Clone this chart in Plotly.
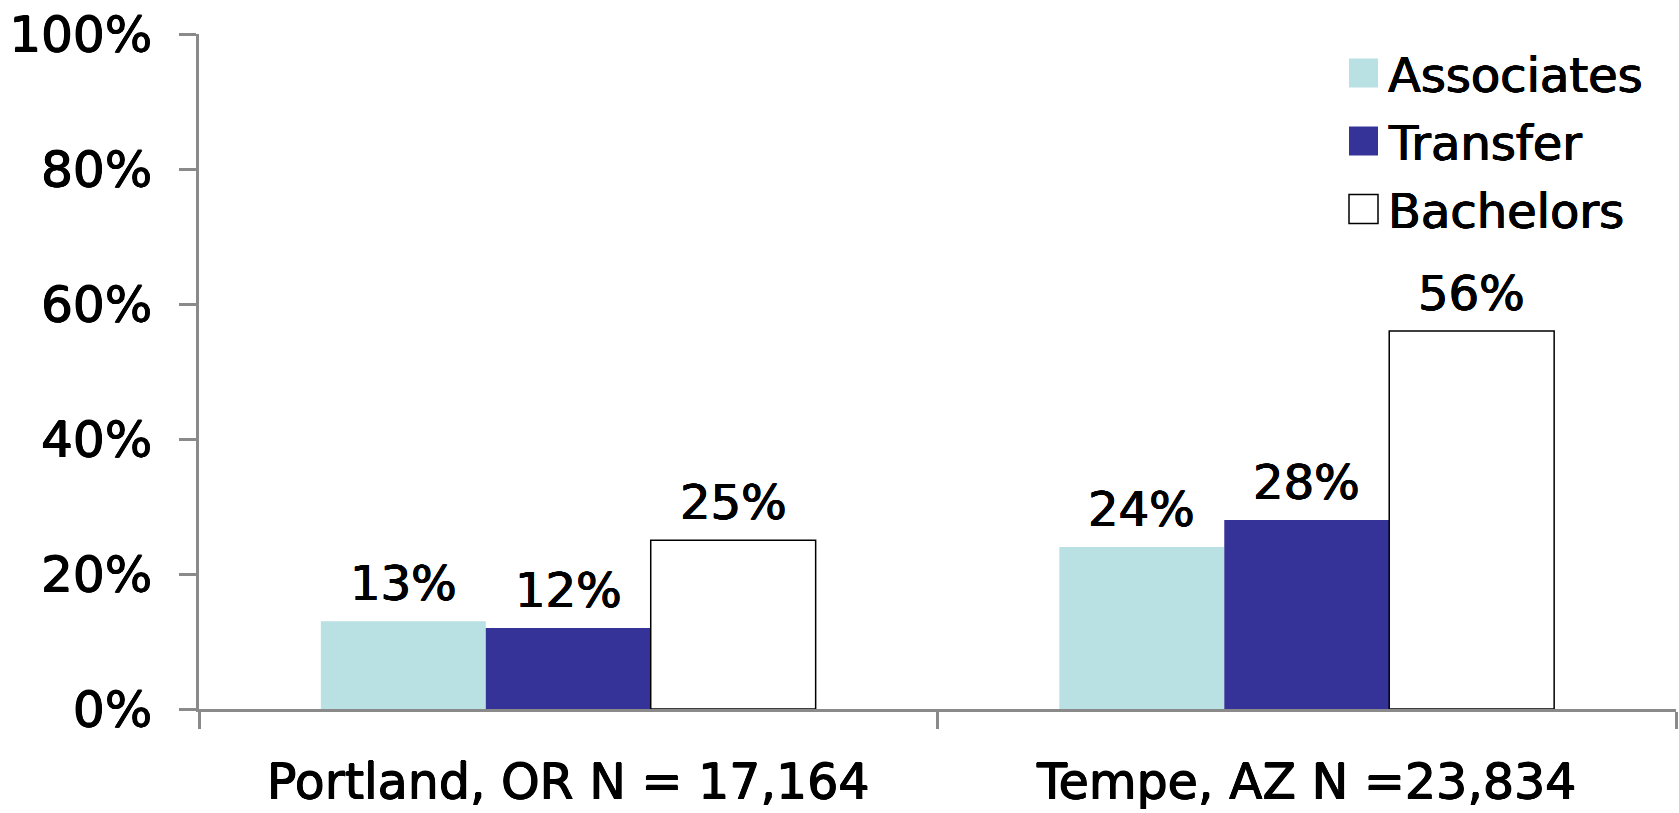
import plotly.graph_objects as go

# Share of students completing each outcome, by site
sites = ["Portland, OR N = 17,164", "Tempe, AZ N =23,834"]
series_names = ["Associates", "Transfer", "Bachelors"]
associates = [13, 24]
transfer = [12, 28]
bachelors = [25, 56]
y_ticks = [0, 20, 40, 60, 80, 100]
y_tick_labels = ["0%", "20%", "40%", "60%", "80%", "100%"]

W, H = 1679, 813
M_L, M_R, M_T, M_B = 199, 3, 34, 104
PLOT_W = W - M_L - M_R
PLOT_H = H - M_T - M_B

FONT = "DejaVu Sans, sans-serif"
HEAVY = "0.6px 0 0 #000, -0.6px 0 0 #000, 0 0.4px 0 #000, 0 -0.4px 0 #000"
AXIS_GRAY = "#8a8a8a"
fill_colors = ["#b9e0e3", "#363398", "#ffffff"]
line_colors = ["#b9e0e3", "#363398", "#000000"]
line_widths = [0, 0, 1.5]

values = [associates, transfer, bachelors]
BARGAP = 0.33
bar_w = (1 - BARGAP) / len(values)

fig = go.Figure()
for k, (name, vals) in enumerate(zip(series_names, values)):
    fig.add_trace(go.Bar(
        name=name,
        x=sites,
        y=vals,
        marker=dict(color=fill_colors[k],
                    line=dict(color=line_colors[k], width=line_widths[k])),
        showlegend=False,
    ))

# value labels above each bar
annotations = []
for k, vals in enumerate(values):
    for i, v in enumerate(vals):
        annotations.append(dict(
            x=i + (k - 1) * bar_w, y=v, xref="x", yref="y",
            text=f"{v}%", showarrow=False, yanchor="bottom",
            yshift=8, font=dict(family=FONT, size=48, color="black",
                                shadow=HEAVY),
        ))


def px_to_paper_x(px):
    return (px - M_L) / PLOT_W


def px_to_paper_y(py):
    return (H - M_B - py) / PLOT_H


# legend: square swatches with labels, top right
legend_left = 1349
legend_rows = [73, 141, 209]
sw = 29
shapes = []
for k, name in enumerate(series_names):
    cy = legend_rows[k]
    shapes.append(dict(
        type="rect", xref="paper", yref="paper",
        x0=px_to_paper_x(legend_left), x1=px_to_paper_x(legend_left + sw),
        y0=px_to_paper_y(cy + sw / 2), y1=px_to_paper_y(cy - sw / 2),
        fillcolor=fill_colors[k],
        line=dict(color=line_colors[k] if k == 2 else fill_colors[k],
                  width=1.5 if k == 2 else 0),
        layer="above",
    ))
    annotations.append(dict(
        x=px_to_paper_x(1386), y=px_to_paper_y(cy + 2),
        xref="paper", yref="paper",
        text=name, showarrow=False, xanchor="left", yanchor="middle",
        font=dict(family=FONT, size=48, color="black", shadow=HEAVY),
    ))

fig.update_layout(
    width=W, height=H,
    margin=dict(l=M_L, r=M_R, t=M_T, b=M_B),
    paper_bgcolor="white", plot_bgcolor="white",
    barmode="group", bargap=BARGAP, bargroupgap=0,
    font=dict(family=FONT, size=48, color="black"),
    annotations=annotations,
    shapes=shapes,
    xaxis=dict(
        type="category", range=[-0.5, 1.5],
        showline=True, linecolor=AXIS_GRAY, linewidth=2.5,
        ticks="outside", tickson="boundaries", ticklen=17,
        tickcolor=AXIS_GRAY, tickwidth=2.5,
        showgrid=False, zeroline=False,
        tickfont=dict(family=FONT, size=49, color="black", shadow=HEAVY),
        ticklabelstandoff=28,
    ),
    yaxis=dict(
        range=[0, 100], tickvals=y_ticks, ticktext=y_tick_labels,
        showline=True, linecolor=AXIS_GRAY, linewidth=2.5,
        ticks="outside", ticklen=17, tickcolor=AXIS_GRAY, tickwidth=2.5,
        showgrid=False, zeroline=False,
        tickfont=dict(family=FONT, size=50, color="black", shadow=HEAVY),
        ticklabelstandoff=17,
    ),
)

fig.write_html("out.html")
